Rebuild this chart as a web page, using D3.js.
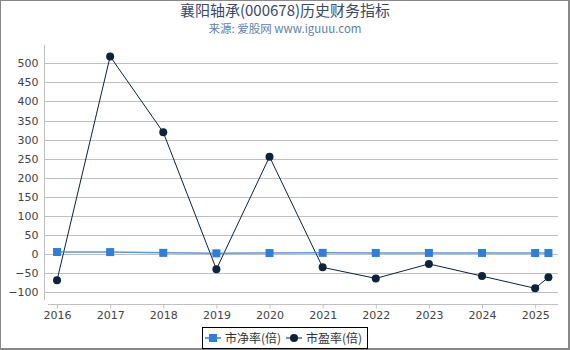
<!DOCTYPE html>
<html>
<head>
<meta charset="utf-8">
<script src="https://cdn.jsdelivr.net/npm/d3@7"></script>
<style>
  body { margin: 0; background: #fff; }
  text { font-family: "DejaVu Sans", sans-serif; }
</style>
</head>
<body>
<script>
// data
let years = [2016, 2017, 2018, 2019, 2020, 2021, 2022, 2023, 2024, 2025, 2025.25];
let pbValues = [5.2, 5.0, 3.0, 1.8, 2.5, 3.0, 2.8, 2.8, 2.8, 2.6, 2.5];
let peValues = [-69, 518, 319, -40, 255, -35, -64, -26, -58, -90, -61];
let yTicks = [-100, -50, 0, 50, 100, 150, 200, 250, 300, 350, 400, 450, 500];
let xTicks = [2016, 2017, 2018, 2019, 2020, 2021, 2022, 2023, 2024, 2025];
let seriesNames = ["市净率(倍)", "市盈率(倍)"];

let W = 570, H = 350;
let colors = ["#2f7ed8", "#0d233a"];

let svg = d3.select("body").append("svg")
  .attr("width", W)
  .attr("height", H);

// outer frame
svg.append("rect")
  .attr("x", 0.5).attr("y", 0.5)
  .attr("width", W - 2).attr("height", H - 2)
  .attr("fill", "#fff")
  .attr("stroke", "#888").attr("stroke-width", 1);
svg.append("line").attr("x1", 0).attr("x2", W).attr("y1", H - 1).attr("y2", H - 1)
  .attr("stroke", "#888").attr("stroke-width", 2);
svg.append("line").attr("x1", W - 1).attr("x2", W - 1).attr("y1", 0).attr("y2", H)
  .attr("stroke", "#888").attr("stroke-width", 2);

// scales
let x = d3.scaleLinear()
  .domain([2015.755, 2025.43])
  .range([44, 558]);

let y = d3.scaleLinear()
  .domain([0, 500])
  .range([254, 63.3]);

// title
svg.append("text")
  .attr("x", 285).attr("y", 16)
  .attr("text-anchor", "middle")
  .style("font-family", "'Noto Sans CJK SC', sans-serif")
  .style("font-size", "15px")
  .attr("fill", "#3b4a63")
  .text("襄阳轴承(000678)历史财务指标");

svg.append("text")
  .attr("x", 285).attr("y", 33)
  .attr("text-anchor", "middle")
  .style("font-family", "'Noto Sans CJK SC', sans-serif")
  .style("font-size", "11.5px")
  .attr("fill", "#5f7fa6")
  .text("来源: 爱股网 www.iguuu.com");

// grid lines
svg.append("g")
  .selectAll("line")
  .data(yTicks)
  .enter().append("line")
  .attr("x1", 44).attr("x2", 558)
  .attr("y1", d => Math.round(y(d)) + 0.5)
  .attr("y2", d => Math.round(y(d)) + 0.5)
  .attr("stroke", "#c0c0c0")
  .attr("stroke-width", 1);

// y axis
let yAxis = svg.append("g")
  .attr("transform", "translate(44.5,0)")
  .call(d3.axisLeft(y).tickValues(yTicks).tickSize(0).tickPadding(6));
yAxis.select(".domain").remove();
yAxis.append("line")
  .attr("x1", 0).attr("x2", 0).attr("y1", 45).attr("y2", 300)
  .attr("stroke", "#c0c0c0");
yAxis.selectAll("text")
  .style("font-size", "11px")
  .style("font-family", "'DejaVu Sans', sans-serif")
  .attr("fill", "#444");

// x axis
let xAxis = svg.append("g")
  .attr("transform", "translate(0,304.5)")
  .call(d3.axisBottom(x).tickValues(xTicks).tickFormat(d3.format("d")).tickSize(4).tickPadding(3));
xAxis.select(".domain")
  .attr("d", "M48,0H558")
  .attr("stroke", "#c0c0c0");
xAxis.selectAll(".tick line").attr("stroke", "#c0c0c0");
xAxis.selectAll("text")
  .style("font-size", "11px")
  .style("font-family", "'DejaVu Sans', sans-serif")
  .attr("fill", "#444");

// lines
let seriesLine = d3.line()
  .x((d, i) => x(years[i]))
  .y(d => y(d));

svg.append("path")
  .datum(peValues)
  .attr("d", seriesLine)
  .attr("fill", "none")
  .attr("stroke", colors[1])
  .attr("stroke-width", 1);

svg.append("path")
  .datum(pbValues)
  .attr("d", seriesLine)
  .attr("fill", "none")
  .attr("stroke", colors[0])
  .attr("stroke-opacity", 0.8)
  .attr("stroke-width", 1.5);

// markers
svg.append("g")
  .selectAll("rect")
  .data(pbValues)
  .enter().append("rect")
  .attr("x", (d, i) => x(years[i]) - 4)
  .attr("y", d => y(d) - 4)
  .attr("width", 8)
  .attr("height", 8)
  .attr("fill", colors[0]);

svg.append("g")
  .selectAll("circle")
  .data(peValues)
  .enter().append("circle")
  .attr("cx", (d, i) => x(years[i]))
  .attr("cy", d => y(d))
  .attr("r", 4)
  .attr("fill", colors[1]);

// legend
let legend = svg.append("g");
legend.append("rect")
  .attr("x", 202.5).attr("y", 327.5)
  .attr("width", 165).attr("height", 21)
  .attr("fill", "#fff")
  .attr("stroke", "#000")
  .attr("stroke-width", 1);

let legendX = [205, 286];
seriesNames.forEach(function(name, i) {
  let g = legend.append("g").attr("transform", "translate(" + legendX[i] + ",338)");
  g.append("line")
    .attr("x1", 0).attr("x2", 16)
    .attr("stroke", colors[i])
    .attr("stroke-width", i == 0 ? 1.5 : 1);
  if (i == 0) {
    g.append("rect").attr("x", 4).attr("y", -4).attr("width", 8).attr("height", 8).attr("fill", colors[i]);
  } else {
    g.append("circle").attr("cx", 8).attr("r", 4).attr("fill", colors[i]);
  }
  g.append("text")
    .attr("x", 20).attr("y", 4.5)
    .style("font-family", "'Noto Sans CJK SC', sans-serif")
    .style("font-size", "12px")
    .attr("fill", "#333")
    .text(name);
});
</script>
</body>
</html>
